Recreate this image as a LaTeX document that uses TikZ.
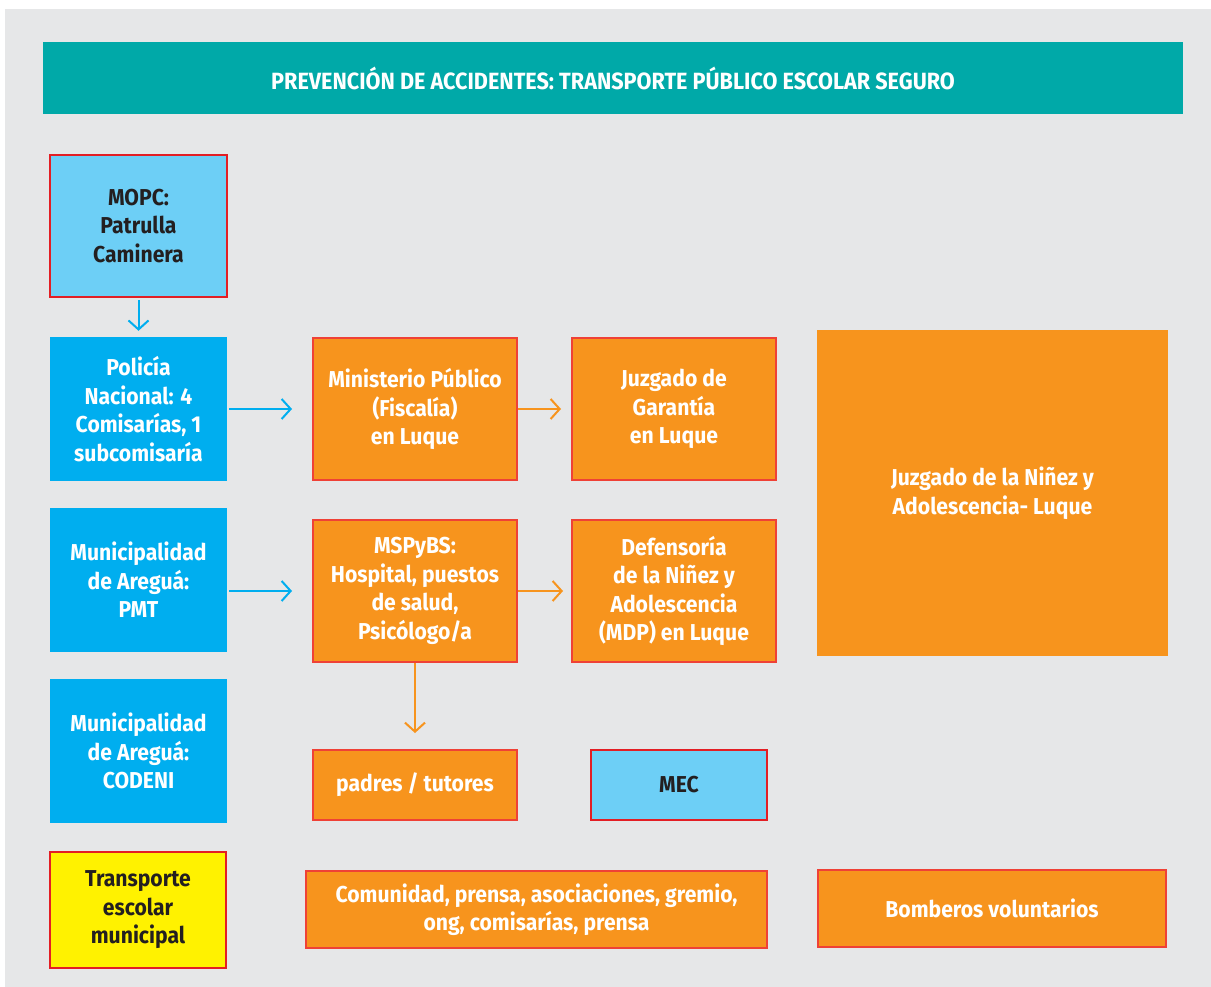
\documentclass[tikz,border=0pt]{standalone}
\usepackage{fontspec}
\setmainfont{Fira Sans}[FakeStretch=0.92,BoldFont={Fira Sans Bold}]
\usetikzlibrary{arrows.meta}
\definecolor{bggray}{HTML}{E6E7E8}
\definecolor{teal1}{HTML}{00A9A8}
\definecolor{lblue}{HTML}{6DCFF6}
\definecolor{dblue}{HTML}{00AEEF}
\definecolor{orng}{HTML}{F7941D}
\definecolor{redb}{HTML}{EF4136}
\definecolor{redd}{HTML}{E31E24}
\definecolor{ylw}{HTML}{FFF200}
\definecolor{dtext}{HTML}{231F20}
\begin{document}
\begin{tikzpicture}[x=1pt,y=-1pt,
  base/.style={rectangle,inner sep=0pt,align=center,font=\fontsize{23}{28.5}\selectfont\bfseries},
  bluebox/.style={base,fill=dblue,text=white},
  lbluebox/.style={base,fill=lblue,draw=redd,line width=2.5pt,text=dtext},
  orbox/.style={base,fill=orng,draw=redb,line width=2pt,text=white},
  orplain/.style={base,fill=orng,text=white},
  ylbox/.style={base,fill=ylw,draw=redd,line width=2.5pt,text=dtext},
  barr/.style={draw=dblue,line width=2pt,-{Straight Barb[length=9pt,width=20pt,line width=2pt]}},
  oarr/.style={draw=orng,line width=2pt,-{Straight Barb[length=9pt,width=20pt,line width=2pt]}}
]
\useasboundingbox (0,0) rectangle (1211,987);
\fill[white] (0,0) rectangle (1211,987);
\fill[bggray] (5,9) rectangle (1211,987);

\node[base,fill=teal1,text=white,minimum width=1140,minimum height=72,font=\fontsize{23.5}{28}\selectfont\bfseries] (title) at (613,78) {PREVENCIÓN DE ACCIDENTES: TRANSPORTE PÚBLICO ESCOLAR SEGURO};

\node[lbluebox,minimum width=177,minimum height=142] (mopc) at (138.5,226) {MOPC:\\Patrulla\\Caminera};
\node[bluebox,minimum width=177,minimum height=144] (pol) at (138.5,409) {Policía\\Nacional: 4\\Comisarías, 1\\subcomisaría};
\node[orbox,minimum width=204,minimum height=142] (min) at (415,409) {Ministerio Público\\(Fiscalía)\\en Luque};
\node[orbox,minimum width=204,minimum height=142] (jg) at (674,409) {Juzgado de\\Garantía\\en Luque};
\node[orplain,minimum width=351,minimum height=326] (jn) at (992.5,493) {Juzgado de la Niñez y\\Adolescencia- Luque};

\node[bluebox,minimum width=177,minimum height=144] (pmt) at (138.5,580) {Municipalidad\\de Areguá:\\PMT};
\node[orbox,minimum width=204,minimum height=142] (msp) at (415,591) {MSPyBS:\\Hospital, puestos\\de salud,\\Psicólogo/a};
\node[orbox,minimum width=204,minimum height=142] (def) at (674,591) {Defensoría\\de la Niñez y\\Adolescencia\\(MDP) en Luque};

\node[bluebox,minimum width=177,minimum height=144] (cod) at (138.5,751) {Municipalidad\\de Areguá:\\CODENI};
\node[orbox,minimum width=204,minimum height=70] (pad) at (415,785) {padres / tutores};
\node[lbluebox,minimum width=176,minimum height=70] (mec) at (679,785) {MEC};

\node[ylbox,minimum width=176,minimum height=116] (tra) at (138,910) {Transporte\\escolar\\municipal};
\node[orbox,minimum width=461,minimum height=77] (com) at (536.5,909.5) {Comunidad, prensa, asociaciones, gremio,\\ong, comisarías, prensa};
\node[orbox,minimum width=348,minimum height=77] (bom) at (992,908.5) {Bomberos voluntarios};

\draw[barr,shorten <=2pt,shorten >=6pt] (mopc.south) -- (pol.north);
\draw[barr,shorten <=2pt,shorten >=20pt] (pol.east) -- (min.west);
\draw[oarr,shorten >=10pt] (min.east) -- (jg.west);
\draw[barr,shorten <=2pt,shorten >=20pt] (pmt.east |- msp.west) -- (msp.west);
\draw[oarr,shorten >=8pt] (msp.east) -- (def.west);
\draw[oarr,shorten >=16pt] (msp.south) -- (pad.north);
\end{tikzpicture}
\end{document}
